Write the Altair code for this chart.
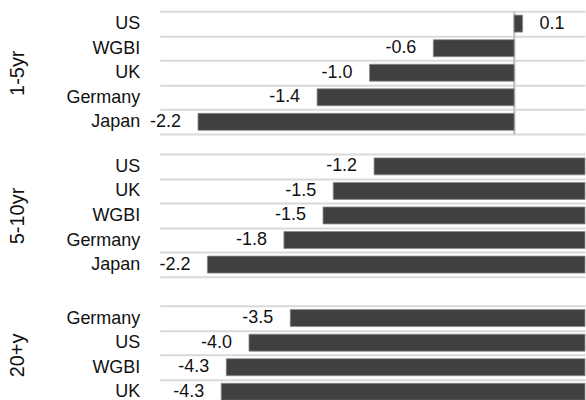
import altair as alt
import pandas as pd

# ---- data ----
panel_titles = ["1-5yr", "5-10yr", "20+y"]

cats_1 = ["US", "WGBI", "UK", "Germany", "Japan"]
vals_1 = [0.06, -0.57, -1.02, -1.39, -2.23]

cats_2 = ["US", "UK", "WGBI", "Germany", "Japan"]
vals_2 = [-1.24, -1.48, -1.54, -1.77, -2.22]

cats_3 = ["Germany", "US", "WGBI", "UK"]
vals_3 = [-3.50, -3.99, -4.26, -4.32]

x_domains = [[-2.5, 0.5], [-2.5, 0.0], [-5.05, 0.0]]

FONT = "Liberation Sans"
TXT = "#111111"
BAR = "#404040"
GRID = "#d9d9d9"
PLOT_W = 426
STEP = 24.6


def panel(cats, vals, title, dom, zero_line=False, top_gap=0):
    df = pd.DataFrame({"cat": cats, "v": vals})
    band_h = STEP * len(cats)
    h = band_h + top_gap
    scale_kw = dict(domain=cats, paddingInner=0, paddingOuter=0)
    if top_gap:
        scale_kw["range"] = [top_gap, h]
    y = alt.Y(
        "cat:N",
        sort=cats,
        scale=alt.Scale(**scale_kw),
        title=title,
        axis=alt.Axis(
            domain=False,
            ticks=False,
            labelPadding=20,
            labelFont=FONT,
            labelFontSize=18,
            labelColor=TXT,
            titleFont=FONT,
            titleFontSize=20,
            titleFontWeight="normal",
            titleColor=TXT,
            titlePadding=38,
            titleY=top_gap + band_h / 2,
            grid=True,
            gridColor=GRID,
            gridWidth=2,
            tickBand="extent",
        ),
    )
    xscale = alt.Scale(domain=dom, nice=False, zero=False)
    x = alt.X("v:Q", scale=xscale, axis=None)
    base = alt.Chart(df).transform_calculate(
        lbl="replace(format(datum.v, '.1f'), '\u2212', '-')"
    )
    bars = base.mark_bar(
        size=17, color=BAR, stroke="#8a8a8a", strokeWidth=0.8
    ).encode(x=x, y=y)
    neg = (
        base.transform_filter("datum.v < 0")
        .mark_text(align="right", baseline="middle", dx=-17, font=FONT, fontSize=18, color=TXT)
        .encode(x=x, y=y, text="lbl:N")
    )
    layers = [bars, neg]
    if any(v >= 0 for v in vals):
        pos = (
            base.transform_filter("datum.v >= 0")
            .mark_text(align="left", baseline="middle", dx=17, font=FONT, fontSize=18, color=TXT)
            .encode(x=x, y=y, text="lbl:N")
        )
        layers.append(pos)
    if zero_line:
        rule = base.mark_rule(color="#c6c6c6", strokeWidth=2).encode(
            x=alt.XDatum(0, scale=xscale, axis=None)
        )
        layers.insert(0, rule)
    return alt.layer(*layers).properties(width=PLOT_W, height=h)


p1 = panel(cats_1, vals_1, panel_titles[0], x_domains[0], zero_line=True)
p2 = panel(cats_2, vals_2, panel_titles[1], x_domains[1])
p3 = panel(cats_3, vals_3, panel_titles[2], x_domains[2], top_gap=9)

chart = (
    alt.vconcat(p1, p2, p3, spacing=20, bounds="flush")
    .properties(padding={"left": 7, "top": 2, "right": 0, "bottom": 0})
    .configure_view(stroke=None)
)

chart.save("out.html", embed_options={"renderer": "svg", "actions": False})
